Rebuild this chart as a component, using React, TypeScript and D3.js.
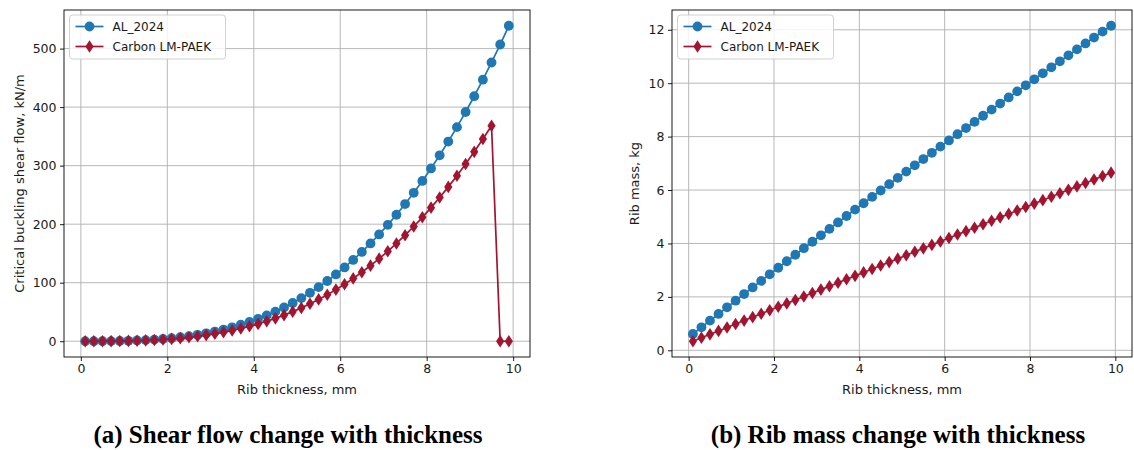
import React, { useEffect, useRef } from "react";
import * as d3 from "d3";

// rib thickness, mm
const thickness = [
  0.1, 0.3, 0.5, 0.7, 0.9, 1.1, 1.3, 1.5, 1.7, 1.9,
  2.1, 2.3, 2.5, 2.7, 2.9, 3.1, 3.3, 3.5, 3.7, 3.9,
  4.1, 4.3, 4.5, 4.7, 4.9, 5.1, 5.3, 5.5, 5.7, 5.9,
  6.1, 6.3, 6.5, 6.7, 6.9, 7.1, 7.3, 7.5, 7.7, 7.9,
  8.1, 8.3, 8.5, 8.7, 8.9, 9.1, 9.3, 9.5, 9.7, 9.9,
];

// critical buckling shear flow, kN/m
const shearAl = [
  0.0, 0.02, 0.07, 0.19, 0.4, 0.74, 1.22, 1.87, 2.73, 3.81,
  5.14, 6.76, 8.68, 10.93, 13.55, 16.55, 19.96, 23.82, 28.14, 32.95,
  38.28, 44.17, 50.62, 57.67, 65.35, 73.69, 82.7, 92.42, 102.88, 114.09,
  126.09, 138.9, 152.55, 167.07, 182.48, 198.81, 216.09, 234.34, 253.6, 273.88,
  295.22, 317.64, 341.16, 365.82, 391.63, 418.63, 446.84, 476.28, 506.99, 539.0,
];
const shearCarbon = [
  0.0, 0.01, 0.05, 0.15, 0.31, 0.57, 0.94, 1.45, 2.11, 2.95,
  3.97, 5.23, 6.71, 8.45, 10.47, 12.79, 15.43, 18.41, 21.75, 25.47,
  29.59, 34.14, 39.13, 44.58, 50.52, 56.96, 63.93, 71.44, 79.53, 88.19,
  97.47, 107.37, 117.92, 129.15, 141.06, 153.68, 167.04, 181.15, 196.03, 211.71,
  228.2, 245.54, 263.72, 282.78, 302.73, 323.6, 345.41, 368.16, 0.0, 0.0,
];

// rib mass, kg
const massAl = [
  0.61, 0.861, 1.111, 1.361, 1.61, 1.858, 2.106, 2.353, 2.599, 2.845,
  3.09, 3.335, 3.578, 3.822, 4.064, 4.306, 4.547, 4.788, 5.028, 5.267,
  5.506, 5.744, 5.982, 6.218, 6.455, 6.69, 6.925, 7.159, 7.393, 7.626,
  7.858, 8.09, 8.321, 8.551, 8.781, 9.01, 9.239, 9.466, 9.694, 9.92,
  10.146, 10.371, 10.596, 10.82, 11.043, 11.266, 11.488, 11.709, 11.93, 12.15,
];
const massCarbon = [
  0.34, 0.469, 0.598, 0.726, 0.855, 0.984, 1.113, 1.242, 1.37, 1.499,
  1.628, 1.757, 1.886, 2.014, 2.143, 2.272, 2.401, 2.53, 2.658, 2.787,
  2.916, 3.045, 3.174, 3.302, 3.431, 3.56, 3.689, 3.818, 3.946, 4.075,
  4.204, 4.333, 4.462, 4.59, 4.719, 4.848, 4.977, 5.106, 5.234, 5.363,
  5.492, 5.621, 5.75, 5.878, 6.007, 6.136, 6.265, 6.394, 6.522, 6.651,
];

const seriesNames = ["AL_2024", "Carbon LM-PAEK"];
const xTicks = [0, 2, 4, 6, 8, 10];
const shearTicks = [0, 100, 200, 300, 400, 500];
const massTicks = [0, 2, 4, 6, 8, 10, 12];

const BLUE = "#1f77b4";
const RED = "#a2142f";
const FONT = "DejaVu Sans, sans-serif";

type Panel = {
  left: number; right: number; top: number; bottom: number;
  al: number[]; carbon: number[];
  yTicks: number[]; yLabel: string; yLabelX: number;
  caption: string; captionX: number;
};

function drawPanel(svg: any, p: Panel) {
  const xExt = d3.extent(thickness) as [number, number];
  const xPad = (xExt[1] - xExt[0]) * 0.05;
  const x = d3.scaleLinear().domain([xExt[0] - xPad, xExt[1] + xPad]).range([p.left, p.right]);
  const yExt = d3.extent(p.al.concat(p.carbon)) as [number, number];
  const yPad = (yExt[1] - yExt[0]) * 0.05;
  const y = d3.scaleLinear().domain([yExt[0] - yPad, yExt[1] + yPad]).range([p.bottom, p.top]);

  const g = svg.append("g");

  // grid
  g.selectAll(".vgrid").data(xTicks).enter().append("line")
    .attr("x1", (d: number) => x(d)).attr("x2", (d: number) => x(d))
    .attr("y1", p.top).attr("y2", p.bottom)
    .attr("stroke", "#b0b0b0").attr("stroke-width", 0.9);
  g.selectAll(".hgrid").data(p.yTicks).enter().append("line")
    .attr("y1", (d: number) => y(d)).attr("y2", (d: number) => y(d))
    .attr("x1", p.left).attr("x2", p.right)
    .attr("stroke", "#b0b0b0").attr("stroke-width", 0.9);

  // axes
  const xAxis = d3.axisBottom(x).tickValues(xTicks).tickSize(4).tickPadding(3.5).tickFormat(d3.format("d"));
  const yAxis = d3.axisLeft(y).tickValues(p.yTicks).tickSize(4).tickPadding(3.5).tickFormat(d3.format("d"));
  [
    g.append("g").attr("transform", `translate(0,${p.bottom})`).call(xAxis),
    g.append("g").attr("transform", `translate(${p.left},0)`).call(yAxis),
  ].forEach((ax: any) => {
    ax.select(".domain").remove();
    ax.selectAll("line").attr("stroke", "#000").attr("stroke-width", 0.9);
    ax.selectAll("text").attr("font-family", FONT).attr("font-size", 12.5).attr("fill", "#1a1a1a");
  });

  // series
  const line = d3.line<number>().x((d, i) => x(thickness[i])).y((d) => y(d));
  const diamond = "M0,-6.3L4.1,0L0,6.3L-4.1,0Z";

  g.append("path").datum(p.al).attr("d", line)
    .attr("fill", "none").attr("stroke", BLUE).attr("stroke-width", 1.7);
  g.selectAll(".dot").data(p.al).enter().append("circle")
    .attr("cx", (d: number, i: number) => x(thickness[i])).attr("cy", (d: number) => y(d))
    .attr("r", 4.9).attr("fill", BLUE);

  g.append("path").datum(p.carbon).attr("d", line)
    .attr("fill", "none").attr("stroke", RED).attr("stroke-width", 1.7);
  g.selectAll(".dia").data(p.carbon).enter().append("path")
    .attr("d", diamond)
    .attr("transform", (d: number, i: number) => `translate(${x(thickness[i])},${y(d)})`)
    .attr("fill", RED);

  // spines
  g.append("rect")
    .attr("x", p.left).attr("y", p.top)
    .attr("width", p.right - p.left).attr("height", p.bottom - p.top)
    .attr("fill", "none").attr("stroke", "#000").attr("stroke-width", 0.9);

  // legend
  const lg = g.append("g").attr("transform", `translate(${p.left + 5.5},${p.top + 5})`);
  lg.append("rect").attr("width", 156).attr("height", 44).attr("rx", 3)
    .attr("fill", "#fff").attr("fill-opacity", 0.8)
    .attr("stroke", "#cccccc").attr("stroke-width", 0.9);
  seriesNames.forEach((name, i) => {
    const cy = 11.5 + i * 20;
    const color = i === 0 ? BLUE : RED;
    lg.append("line").attr("x1", 6).attr("x2", 34).attr("y1", cy).attr("y2", cy)
      .attr("stroke", color).attr("stroke-width", 1.7);
    if (i === 0) {
      lg.append("circle").attr("cx", 20).attr("cy", cy).attr("r", 4.9).attr("fill", color);
    } else {
      lg.append("path").attr("d", diamond).attr("transform", `translate(20,${cy})`).attr("fill", color);
    }
    lg.append("text").attr("x", 43).attr("y", cy + 4.4)
      .attr("font-family", FONT).attr("font-size", 12).attr("fill", "#1a1a1a").text(name);
  });

  // labels
  g.append("text")
    .attr("x", (p.left + p.right) / 2).attr("y", p.bottom + 37)
    .attr("text-anchor", "middle").attr("font-family", FONT).attr("font-size", 13)
    .attr("fill", "#1a1a1a")
    .text("Rib thickness, mm");
  g.append("text")
    .attr("transform", `translate(${p.yLabelX},${(p.top + p.bottom) / 2}) rotate(-90)`)
    .attr("text-anchor", "middle").attr("font-family", FONT).attr("font-size", 13)
    .attr("fill", "#1a1a1a")
    .text(p.yLabel);
  g.append("text")
    .attr("x", p.captionX).attr("y", 443)
    .attr("text-anchor", "middle").attr("font-family", "Liberation Serif, serif")
    .attr("font-weight", "bold").attr("font-size", 25)
    .text(p.caption);
}

export default function App() {
  const ref = useRef<SVGSVGElement | null>(null);

  useEffect(() => {
    const svg = d3.select(ref.current);
    svg.selectAll("*").remove();
    drawPanel(svg, {
      left: 64, right: 530, top: 10, bottom: 357,
      al: shearAl, carbon: shearCarbon,
      yTicks: shearTicks, yLabel: "Critical buckling shear flow, kN/m", yLabelX: 24,
      caption: "(a) Shear flow change with thickness", captionX: 288,
    });
    drawPanel(svg, {
      left: 672, right: 1132, top: 10, bottom: 357,
      al: massAl, carbon: massCarbon,
      yTicks: massTicks, yLabel: "Rib mass, kg", yLabelX: 639,
      caption: "(b) Rib mass change with thickness", captionX: 898,
    });
  }, []);

  return (
    <svg ref={ref} width={1134} height={450}
      style={{ position: "absolute", left: 0, top: 0, background: "#fff" }} />
  );
}
